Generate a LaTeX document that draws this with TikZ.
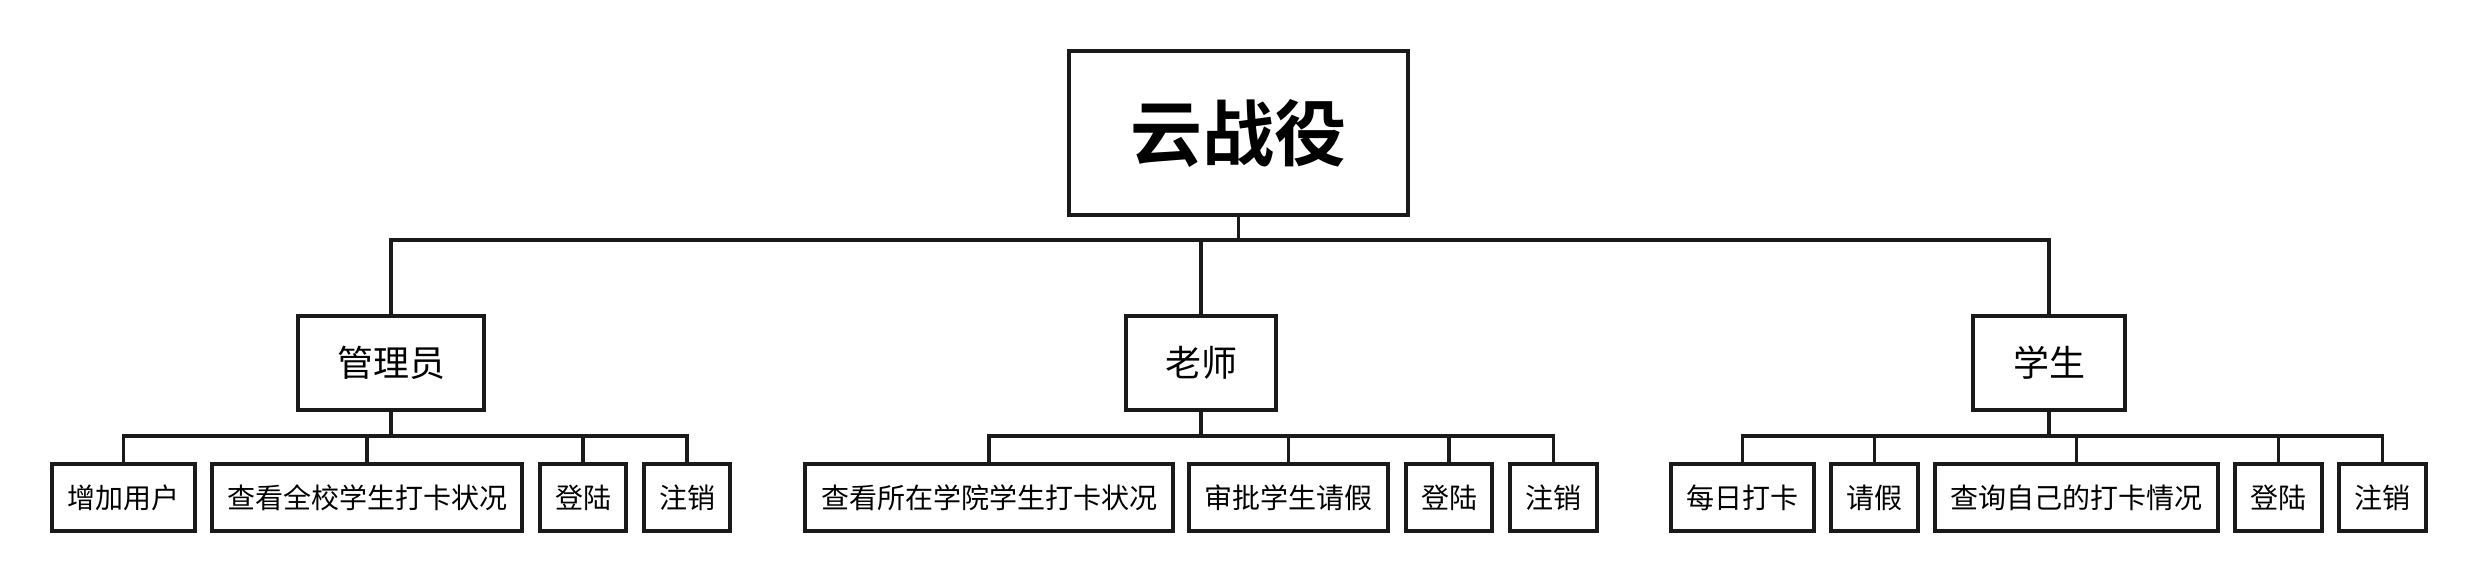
\documentclass[tikz,border=0pt]{standalone}
\usepackage{fontspec}
\newfontfamily\cjk{Noto Sans CJK SC}
\newfontfamily\cjkbold{Noto Sans CJK SC Bold}
\definecolor{ink}{HTML}{1A1A1A}
\begin{document}
\begin{tikzpicture}[x=1pt,y=-1pt,
  box/.style={draw=ink,line width=4pt,fill=white,inner sep=0pt,align=center,text=black},
  rootbox/.style={box,minimum width=339pt,minimum height=164pt,font=\cjkbold\fontsize{72}{80}\selectfont},
  midbox/.style={box,minimum height=94pt,font=\cjk\fontsize{36}{42}\selectfont},
  leafbox/.style={box,minimum height=67pt,font=\cjk\fontsize{28}{32}\selectfont},
  link/.style={draw=ink,line width=3.6pt}]
\useasboundingbox[fill=white] (0,0) rectangle (2476,580);
% root
\node[rootbox] (root) at (1238.5,133) {云战役};
% middle level
\node[midbox,minimum width=186pt] (adm) at (391,363) {管理员};
\node[midbox,minimum width=150pt] (tea) at (1201,363) {老师};
\node[midbox,minimum width=152pt] (stu) at (2049,363) {学生};
% admin leaves
\node[leafbox,minimum width=143pt] (a1) at (123.5,497.5) {增加用户};
\node[leafbox,minimum width=310pt] (a2) at (367,497.5) {查看全校学生打卡状况};
\node[leafbox,minimum width=86pt] (a3) at (583,497.5) {登陆};
\node[leafbox,minimum width=86pt] (a4) at (687,497.5) {注销};
% teacher leaves
\node[leafbox,minimum width=368pt] (t1) at (989,497.5) {查看所在学院学生打卡状况};
\node[leafbox,minimum width=199pt] (t2) at (1288.5,497.5) {审批学生请假};
\node[leafbox,minimum width=86pt] (t3) at (1449,497.5) {登陆};
\node[leafbox,minimum width=87pt] (t4) at (1553.5,497.5) {注销};
% student leaves
\node[leafbox,minimum width=143pt] (s1) at (1742.5,497.5) {每日打卡};
\node[leafbox,minimum width=87pt] (s2) at (1874.5,497.5) {请假};
\node[leafbox,minimum width=283pt] (s3) at (2076.5,497.5) {查询自己的打卡情况};
\node[leafbox,minimum width=87pt] (s4) at (2278.5,497.5) {登陆};
\node[leafbox,minimum width=87pt] (s5) at (2382.5,497.5) {注销};
% bus coordinates
\coordinate (rb) at (1238.5,240);
\coordinate (ab) at (391,436);
\coordinate (tb) at (1201,436);
\coordinate (sb) at (2049,436);
% root to middle
\begin{scope}[on background layer/.style={}]
\draw[link] (root.south) -- (rb);
\draw[link] (adm.north) |- (rb) -| (stu.north);
\draw[link] (tea.north) -- (tea.north |- rb);
% admin to leaves
\draw[link] (adm.south) -- (ab);
\draw[link] (a1.north) |- (ab) -| (a4.north);
\draw[link] (a2.north) -- (a2.north |- ab);
\draw[link] (a3.north) -- (a3.north |- ab);
% teacher to leaves
\draw[link] (tea.south) -- (tb);
\draw[link] (t1.north) |- (tb) -| (t4.north);
\draw[link] (t2.north) -- (t2.north |- tb);
\draw[link] (t3.north) -- (t3.north |- tb);
% student to leaves
\draw[link] (stu.south) -- (sb);
\draw[link] (s1.north) |- (sb) -| (s5.north);
\draw[link] (s2.north) -- (s2.north |- sb);
\draw[link] (s3.north) -- (s3.north |- sb);
\draw[link] (s4.north) -- (s4.north |- sb);
\end{scope}
\end{tikzpicture}
\end{document}
